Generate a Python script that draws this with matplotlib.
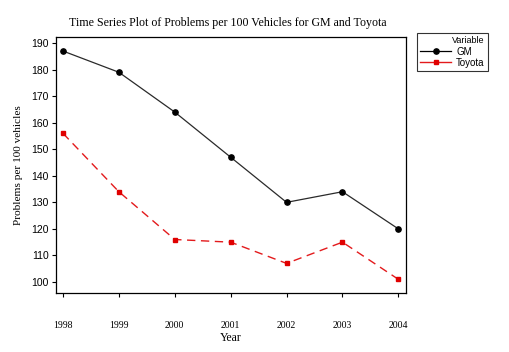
import matplotlib
matplotlib.use("Agg")
import matplotlib.pyplot as plt
from matplotlib.lines import Line2D

years = [1998, 1999, 2000, 2001, 2002, 2003, 2004]
gm = [187, 179, 164, 147, 130, 134, 120]
toyota = [156, 134, 116, 115, 107, 115, 101]
yticks = [100, 110, 120, 130, 140, 150, 160, 170, 180, 190]

SERIF = "Liberation Serif"
SANS = "Liberation Sans"

fig = plt.figure(figsize=(5.09, 3.52), dpi=100)
ax = fig.add_axes([0.110, 0.168, 0.688, 0.727])

ax.plot(years, gm, color="#2a2a2a", lw=0.9, marker="o", ms=3.8,
        mfc="black", mec="black")
ax.plot(years, toyota, color="#e31a1c", lw=1.0, ls=(0, (6, 4)), marker="s", ms=3.5,
        mfc="#e00000", mec="#e00000")

ax.set_xlim(1997.875, 2004.14)
ax.set_ylim(95.9, 192.3)
ax.set_xticks(years)
ax.set_xticklabels([str(y) for y in years], fontfamily=SERIF, fontsize=7)
ax.set_yticks(yticks)
ax.set_yticklabels([str(v) for v in yticks], fontfamily=SANS, fontsize=7.5)
ax.tick_params(axis="x", length=3, pad=17, width=0.8)
ax.tick_params(axis="y", length=3, pad=2, width=0.8)
for s in ax.spines.values():
    s.set_linewidth(0.9)

ax.set_xlabel("Year", fontfamily=SERIF, fontsize=8.5, labelpad=2)
ax.set_ylabel("Problems per 100 vehicles", fontfamily=SERIF, fontsize=8.1, labelpad=6)
fig.text(0.447, 0.935, "Time Series Plot of Problems per 100 Vehicles for GM and Toyota",
         ha="center", va="center", fontfamily=SERIF, fontsize=8.6)

handles = [
    Line2D([0], [0], color="black", lw=0.9, marker="o", ms=3.8),
    Line2D([0], [0], color="#e31a1c", lw=1.0, marker="s", ms=3.5, mfc="#e00000", mec="#e00000"),
]
leg = fig.legend(handles, ["GM", "Toyota"], title="Variable", loc="upper left",
                 bbox_to_anchor=(0.819, 0.906), frameon=True, fancybox=False,
                 edgecolor="black", title_fontsize=6.5,
                 handlelength=3.2, handletextpad=0.5, borderpad=0.35,
                 labelspacing=0.12, borderaxespad=0,
                 prop={"family": SANS, "size": 7})
leg.get_title().set_fontfamily(SANS)
leg._legend_box.align = "right"
leg.get_frame().set_linewidth(0.8)

fig.savefig("out.png", dpi=100)
